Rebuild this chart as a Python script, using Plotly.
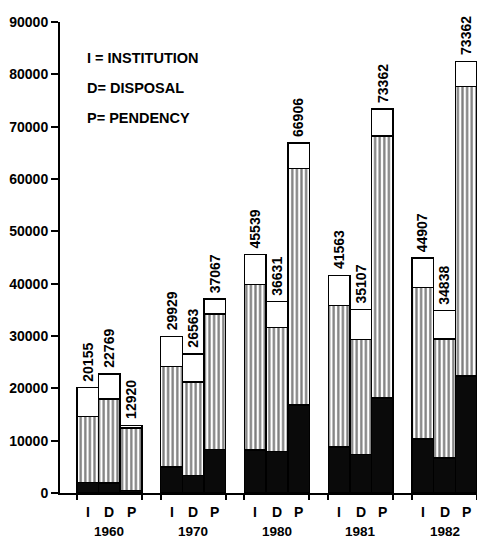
import plotly.graph_objects as go

# ---------------- data ----------------
years = ["1960", "1970", "1980", "1981", "1982"]
kinds = ["I", "D", "P"]
# bottom (black) segment height for each bar
black_vals = [[2000, 1900, 500], [5000, 3300, 8300], [8200, 7900, 16850],
              [8800, 7400, 18200], [10300, 6700, 22400]]
# upper edge of the striped segment
striped_top = [[14600, 18000, 12400], [24200, 21200, 34200], [39800, 31600, 62050],
               [35800, 29300, 68200], [39250, 29400, 77700]]
# bar totals (top of the white box)
totals = [[20155, 22769, 12920], [29929, 26563, 37067], [45539, 36631, 66906],
          [41563, 35107, 73362], [44907, 34838, 82500]]
# printed labels
labels = [["20155", "22769", "12920"], ["29929", "26563", "37067"],
          ["45539", "36631", "66906"], ["41563", "35107", "73362"],
          ["44907", "34838", "73362"]]
legend_lines = ["I = INSTITUTION", "D= DISPOSAL", "P= PENDENCY"]
y_ticks = list(range(0, 90001, 10000))

GROUP_STEP = 3.87
FONT = "Liberation Sans, Arial, DejaVu Sans"

xs, kb, ks, kw, lab, tot = [], [], [], [], [], []
for g, yr in enumerate(years):
    for j, k in enumerate(kinds):
        xs.append(g * GROUP_STEP + j)
        b = black_vals[g][j]
        s = striped_top[g][j]
        t = totals[g][j]
        kb.append(b)
        ks.append(s - b)
        kw.append(t - s)
        lab.append(labels[g][j])
        tot.append(t)

edges = []
for g in range(len(years)):
    edges += [g * GROUP_STEP - 0.5, g * GROUP_STEP + 2.5]

line = dict(color="black", width=1.5)
fig = go.Figure()
fig.add_trace(go.Bar(x=xs, y=kb, width=1, marker=dict(color="#0a0a0a", line=line)))
fig.add_trace(go.Bar(x=xs, y=ks, width=1,
                     marker=dict(color="white", line=line,
                                 pattern=dict(shape="|", fgcolor="black", bgcolor="white",
                                              size=4.6, solidity=0.5))))
fig.add_trace(go.Bar(x=xs, y=kw, width=1, marker=dict(color="white", line=line)))

ann = []
for x, t, l in zip(xs, tot, lab):
    ann.append(dict(x=x, y=t, xref="x", yref="y", text=l, showarrow=False,
                    textangle=-90, xanchor="center", yanchor="bottom", yshift=4,
                    font=dict(size=14, family=FONT, color="black", weight="bold")))
for x, k in zip(xs, kinds * len(years)):
    ann.append(dict(x=x, y=0, xref="x", yref="paper", text=k, showarrow=False,
                    yanchor="middle", yshift=-19,
                    font=dict(size=14, family=FONT, color="black", weight="bold")))
for g, yr in enumerate(years):
    ann.append(dict(x=g * GROUP_STEP + 1, y=0, xref="x", yref="paper", text=yr,
                    showarrow=False, yanchor="middle", yshift=-38,
                    font=dict(size=13.5, family=FONT, color="black", weight="bold")))
for i, t in enumerate(legend_lines):
    ann.append(dict(x=0.06, y=0.9236 - i * 0.0637, xref="paper", yref="paper", text=t,
                    showarrow=False, xanchor="left", yanchor="middle",
                    font=dict(size=14.5, family=FONT, color="black", weight="bold")))

fig.update_layout(
    width=477, height=539, autosize=False,
    margin=dict(l=60, r=0, t=22, b=46),
    barmode="stack", showlegend=False,
    plot_bgcolor="white", paper_bgcolor="white",
    annotations=ann,
    xaxis=dict(range=[-1.28, 4 * GROUP_STEP + 2.5], tickvals=edges,
               ticktext=[""] * len(edges), ticks="outside", ticklen=5,
               tickcolor="black", tickwidth=1.5, showline=True, linecolor="black",
               linewidth=1.8, showgrid=False, zeroline=False),
    yaxis=dict(range=[0, 90000], tickvals=y_ticks, ticktext=[str(v) for v in y_ticks],
               ticks="outside", ticklen=7, tickwidth=1.5, tickcolor="black",
               showline=True, linecolor="black", linewidth=2, showgrid=False,
               zeroline=False,
               tickfont=dict(size=14, family=FONT, color="black", weight="bold")),
)
fig.write_html("out.html", config={"displayModeBar": False},
               post_script="document.body.style.margin='0';document.body.style.overflow='hidden';")
